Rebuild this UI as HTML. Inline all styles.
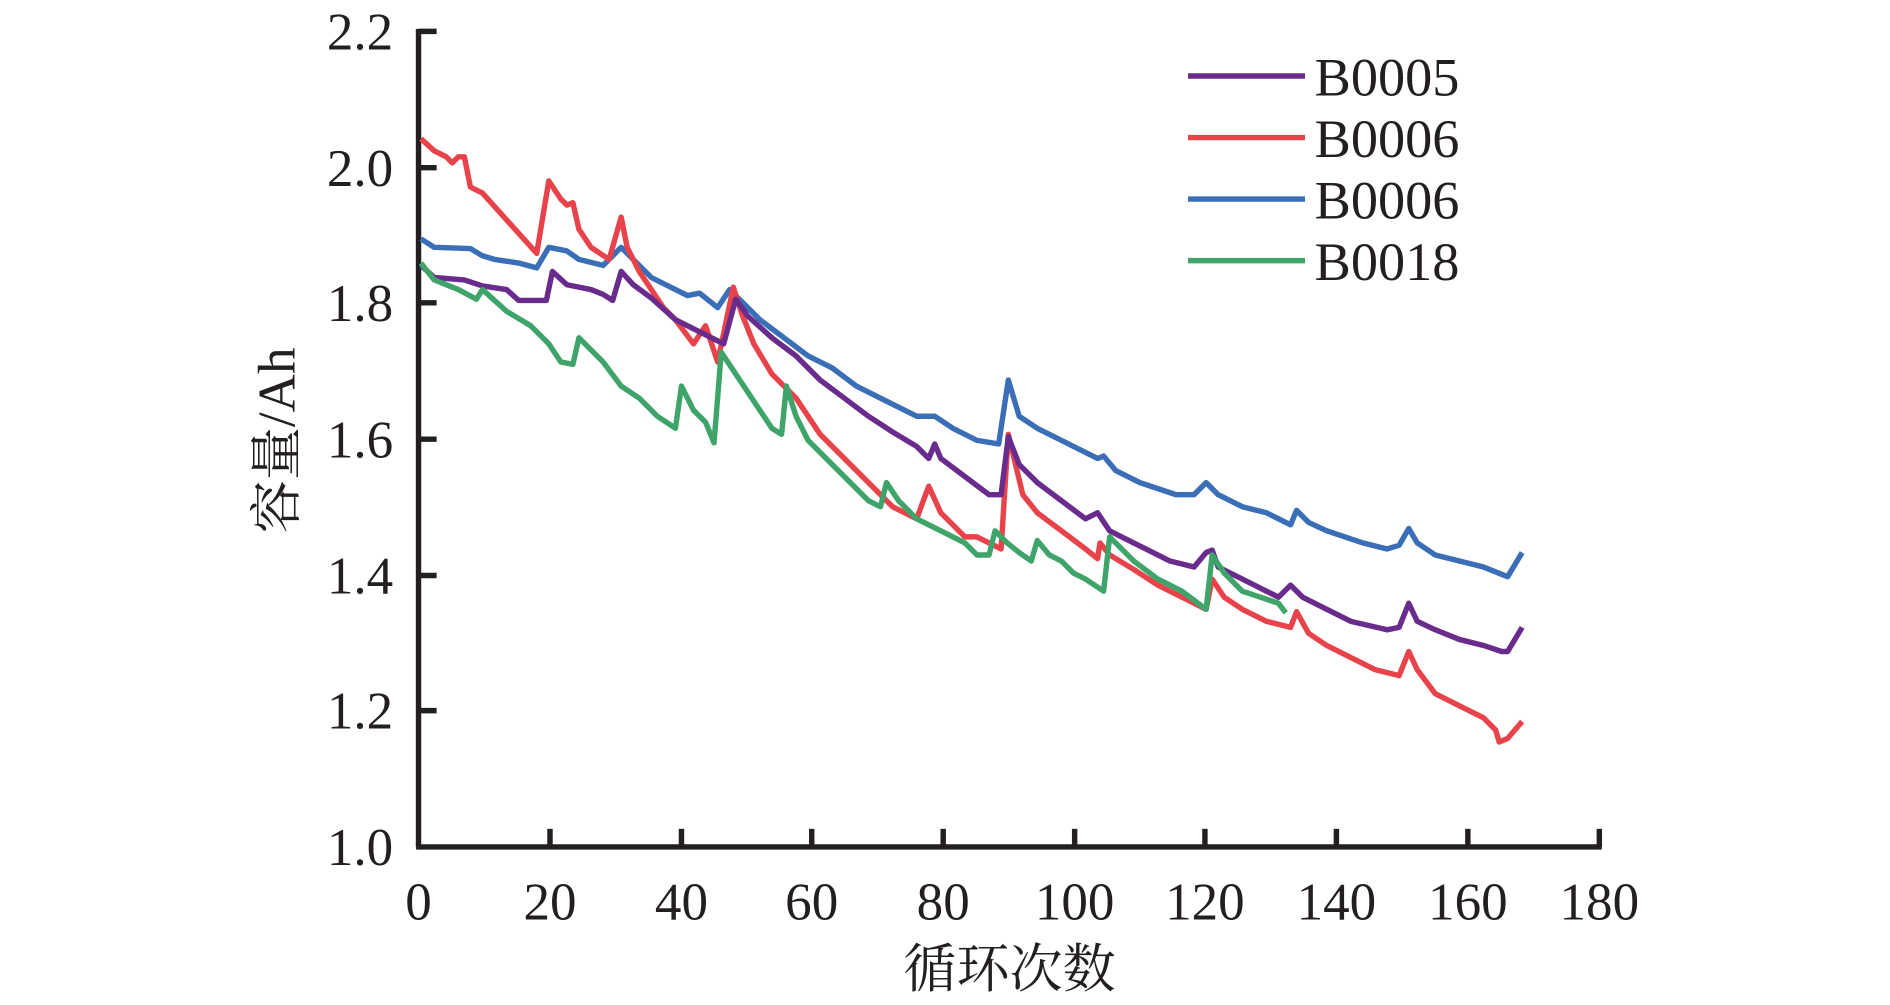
<!DOCTYPE html>
<html><head><meta charset="utf-8"><style>html,body{margin:0;padding:0;background:#fff}svg{display:block}</style></head>
<body>
<svg width="1890" height="1005" viewBox="0 0 1567 833" preserveAspectRatio="none" xmlns="http://www.w3.org/2000/svg">
<g stroke="#231f20" stroke-width="4.5" fill="none">
<line x1="347" y1="24" x2="347" y2="702"/>
<line x1="345" y1="702" x2="1328" y2="702"/>
<line x1="347" y1="26" x2="362" y2="26"/>
<line x1="347" y1="139" x2="362" y2="139"/>
<line x1="347" y1="251" x2="362" y2="251"/>
<line x1="347" y1="364" x2="362" y2="364"/>
<line x1="347" y1="477" x2="362" y2="477"/>
<line x1="347" y1="589" x2="362" y2="589"/>
<line x1="456" y1="702" x2="456" y2="687"/>
<line x1="565" y1="702" x2="565" y2="687"/>
<line x1="673" y1="702" x2="673" y2="687"/>
<line x1="782" y1="702" x2="782" y2="687"/>
<line x1="891" y1="702" x2="891" y2="687"/>
<line x1="999" y1="702" x2="999" y2="687"/>
<line x1="1108" y1="702" x2="1108" y2="687"/>
<line x1="1217" y1="702" x2="1217" y2="687"/>
<line x1="1326" y1="702" x2="1326" y2="687"/>
</g>
<g font-family="Liberation Serif, serif" font-size="44" fill="#231f20" text-anchor="end">
<text x="326" y="41">2.2</text><text x="326" y="154">2.0</text><text x="326" y="266">1.8</text>
<text x="326" y="379">1.6</text><text x="326" y="492">1.4</text><text x="326" y="604">1.2</text><text x="326" y="717">1.0</text>
</g>
<g font-family="Liberation Serif, serif" font-size="44" fill="#231f20" text-anchor="middle">
<text x="347" y="762">0</text><text x="456" y="762">20</text><text x="565" y="762">40</text><text x="673" y="762">60</text>
<text x="782" y="762">80</text><text x="891" y="762">100</text><text x="999" y="762">120</text><text x="1108" y="762">140</text>
<text x="1217" y="762">160</text><text x="1326" y="762">180</text>
</g>
<text x="837" y="818" font-family="Liberation Serif, 'Noto Serif CJK SC', serif" font-size="44" fill="#231f20" text-anchor="middle">循环次数</text>
<text transform="translate(244,365) rotate(-90)" font-family="Liberation Serif, 'Noto Serif CJK SC', serif" font-size="44" fill="#231f20" text-anchor="middle">容量/Ah</text>
<g fill="none" stroke-width="4.5" stroke-linejoin="round">
<polyline stroke="#3a6fb8" points="349,198 360,205 390,206 400,212 410,215 430,218 445,222 455,205 470,208 480,215 500,220 515,205 525,215 540,230 560,240 570,245 580,243 595,255 605,240 615,250 630,265 650,280 670,295 690,305 710,320 740,335 760,345 775,345 790,355 810,365 828,368 836,315 845,345 860,355 880,365 900,375 910,380 915,378 925,390 945,400 960,405 975,410 990,410 1000,400 1010,410 1030,420 1050,425 1070,435 1075,423 1085,433 1100,440 1130,450 1150,455 1160,452 1168,438 1175,450 1190,460 1210,465 1230,470 1250,478 1262,458"/>
<polyline stroke="#e8434a" points="349,115 360,125 370,130 375,135 380,130 385,130 390,155 400,160 445,210 455,150 465,165 470,170 475,168 480,190 490,205 505,215 515,180 520,205 530,225 540,240 550,255 560,265 575,285 585,270 595,300 608,238 615,260 625,285 640,310 660,330 670,345 680,360 700,380 720,400 740,420 760,430 770,403 780,425 790,435 800,445 810,445 820,450 830,455 836,360 848,410 860,425 880,440 900,455 910,463 912,450 920,460 940,472 960,485 980,495 1000,505 1005,480 1015,495 1030,505 1050,515 1070,520 1075,507 1085,525 1100,535 1120,545 1140,555 1160,560 1168,540 1175,555 1190,575 1210,585 1230,595 1240,605 1243,615 1250,612 1262,598"/>
<polyline stroke="#6a2c8c" points="349,220 360,230 385,232 400,237 420,240 430,249 453,249 458,225 470,236 490,240 500,244 508,249 515,225 525,236 540,247 560,265 580,275 600,285 610,248 620,262 640,280 660,295 680,315 700,330 720,345 740,358 760,370 770,380 775,368 780,380 800,395 820,410 830,410 836,362 845,385 860,400 880,415 900,430 910,425 920,440 930,445 950,455 970,465 990,470 1000,458 1005,456 1010,470 1030,480 1050,490 1060,495 1070,485 1080,495 1100,505 1120,515 1150,522 1160,520 1168,500 1175,515 1190,522 1210,530 1230,535 1245,540 1250,540 1262,520"/>
<polyline stroke="#3fa46a" points="349,218 360,232 380,240 395,248 400,240 420,258 440,270 455,285 465,300 475,302 480,280 490,290 500,300 515,320 530,330 545,345 560,355 565,320 575,340 585,350 592,367 598,292 610,310 620,325 630,340 640,355 648,360 652,320 660,345 670,365 680,375 700,395 720,415 730,420 735,400 745,415 760,430 780,440 800,450 810,460 820,460 825,440 835,450 845,458 855,465 860,448 870,460 880,465 890,475 900,480 915,490 920,445 940,465 960,480 980,490 1000,505 1005,460 1015,475 1030,490 1045,495 1060,500 1066,508"/>
<line x1="985" y1="63" x2="1082" y2="63" stroke="#6a2c8c"/>
<line x1="985" y1="114" x2="1082" y2="114" stroke="#e8434a"/>
<line x1="985" y1="165" x2="1082" y2="165" stroke="#3a6fb8"/>
<line x1="985" y1="216" x2="1082" y2="216" stroke="#3fa46a"/>
</g>
<g font-family="Liberation Serif, serif" font-size="45" fill="#231f20">
<text x="1090" y="79">B0005</text><text x="1090" y="130">B0006</text><text x="1090" y="181">B0006</text><text x="1090" y="232">B0018</text>
</g>
</svg>
</body></html>
